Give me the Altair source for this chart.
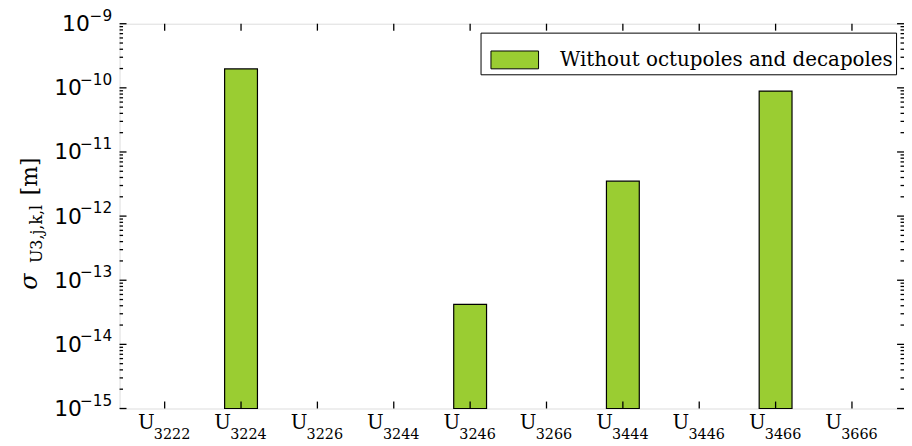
import altair as alt
import pandas as pd

# ---- data ----
codes = ["3222", "3224", "3226", "3244", "3246", "3266", "3444", "3446", "3466", "3666"]
values = [0, 1.97e-10, 0, 0, 4.2e-14, 0, 3.5e-12, 0, 8.9e-11, 0]
series_name = "Without octupoles and decapoles"
exponents = [-15, -14, -13, -12, -11, -10, -9]

W, H = 791, 388

bars_df = pd.DataFrame({"cat": codes, "v": values, "series": [series_name] * len(codes)})
major_df = pd.DataFrame({"v": [10.0 ** e for e in exponents],
                         "lab": ["\u2212" + str(abs(e)) for e in exponents]})
minor_df = pd.DataFrame({"v": [m * 10.0 ** e for e in exponents[:-1] for m in range(2, 10)]})
cat_df = pd.DataFrame({"cat": codes})

yscale = alt.Scale(type="log", domain=[1e-15, 1e-9], nice=False)
yaxis = alt.Axis(values=[10.0 ** e for e in exponents], labelExpr="'10'", domain=False, ticks=False,
                 tickSize=0, grid=False, labelFont="DejaVu Sans", labelFontSize=22, labelColor="black",
                 labelBaseline="middle", labelFlush=False, labelOverlap=False,
                 labelPadding={"condition": {"test": "datum.value > 5e-10", "value": 30.5}, "value": 38.5},
                 title=None)
xscale = alt.Scale(type="band", domain=codes, paddingInner=0, paddingOuter=0.136, align=0.333)
xaxis = alt.Axis(labelExpr="'U'", domain=False, ticks=False, tickSize=0, grid=False,
                 labelFont="DejaVu Serif", labelFontSize=20, labelColor="black", labelAngle=0,
                 labelOffset=-18.5, labelPadding=4, labelBaseline="top", title=None)


def X(f):
    return alt.X(f, type="nominal", scale=xscale, axis=xaxis, sort=codes)


def Y(f):
    return alt.Y(f, type="quantitative", scale=yscale, axis=yaxis)


bars = alt.Chart(bars_df).transform_filter("datum.v > 0").mark_bar(
    width=alt.RelativeBandSize(0.43), stroke="black", strokeWidth=1.2
).encode(
    x=X("cat"),
    y=Y("v"),
    y2=alt.Y2(datum=1e-15),
    color=alt.Color("series:N", scale=alt.Scale(range=["#9acd32"]),
                    legend=alt.Legend(orient="none", legendX=364, legendY=9, title=None,
                                      padding=3, symbolOffset=7, strokeColor="black", fillColor="white",
                                      labelFont="DejaVu Serif", labelFontSize=20, labelColor="black",
                                      labelOffset=21, labelLimit=0,
                                      symbolType="M-1,-0.375L1,-0.375L1,0.375L-1,0.375Z",
                                      symbolSize=2304, symbolStrokeColor="black",
                                      symbolStrokeWidth=1, symbolOpacity=1)),
)

tick_style = dict(color="black", strokeWidth=1.3)
left_major = alt.Chart(major_df).mark_rule(**tick_style).encode(y=Y("v"), x=alt.value(0), x2=alt.value(7))
right_major = alt.Chart(major_df).mark_rule(**tick_style).encode(y=Y("v"), x=alt.value(W), x2=alt.value(W - 7))
left_minor = alt.Chart(minor_df).mark_rule(**tick_style).encode(y=Y("v"), x=alt.value(0), x2=alt.value(3.5))
right_minor = alt.Chart(minor_df).mark_rule(**tick_style).encode(y=Y("v"), x=alt.value(W), x2=alt.value(W - 3.5))
bottom_ticks = alt.Chart(cat_df).mark_rule(**tick_style).encode(x=X("cat"), y=alt.value(H), y2=alt.value(H - 7))
top_ticks = alt.Chart(cat_df).mark_rule(**tick_style).encode(x=X("cat"), y=alt.value(0), y2=alt.value(7))

exp_labels = alt.Chart(major_df).mark_text(
    align="right", baseline="middle", dy=-8, font="DejaVu Sans", fontSize=15.4, color="black"
).encode(y=Y("v"), x=alt.value(-7.5), text="lab:N")

sub_labels = alt.Chart(cat_df).mark_text(
    align="center", baseline="alphabetic", dx=7.5, dy=31, font="DejaVu Serif", fontSize=14.5, color="black"
).encode(x=X("cat"), y=alt.value(H), text="cat:N")

t_sigma = alt.Chart(pd.DataFrame({"t": ["σ"]})).mark_text(
    angle=270, align="center", baseline="middle", font="DejaVu Serif", fontStyle="italic",
    fontSize=24, color="black").encode(text="t:N", x=alt.value(-90.5), y=alt.value(260))
t_sub = alt.Chart(pd.DataFrame({"t": ["U3,j,k,l"]})).mark_text(
    angle=270, align="center", baseline="middle", font="DejaVu Serif",
    fontSize=16, color="black").encode(text="t:N", x=alt.value(-83.5), y=alt.value(212))
t_unit = alt.Chart(pd.DataFrame({"t": ["[m]"]})).mark_text(
    angle=270, align="center", baseline="middle", font="DejaVu Serif",
    fontSize=22, color="black").encode(text="t:N", x=alt.value(-90.5), y=alt.value(154))

chart = alt.layer(
    bars, left_major, right_major, left_minor, right_minor, bottom_ticks, top_ticks,
    exp_labels, sub_labels, t_sigma, t_sub, t_unit
).properties(
    width=W, height=H,
    autosize=alt.AutoSizeParams(type="none"),
    padding={"left": 112.5, "top": 14, "right": 0, "bottom": 40},
).configure_view(stroke="black", strokeWidth=1.3).configure(background="white")

chart.save("out.html", embed_options={"renderer": "svg", "actions": False})
